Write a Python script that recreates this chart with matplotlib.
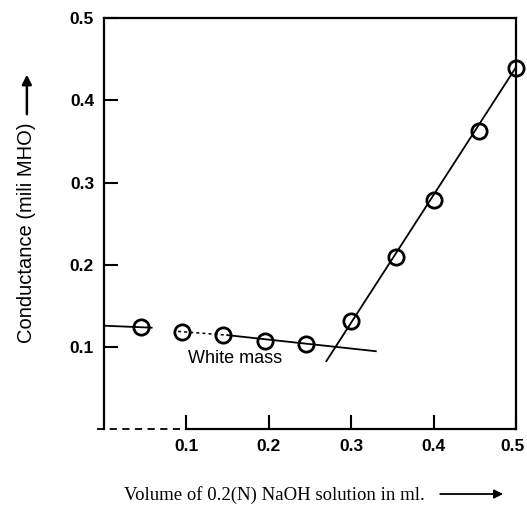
import matplotlib.pyplot as plt
from matplotlib.transforms import ScaledTranslation

# data
volume = [0.045, 0.095, 0.145, 0.195, 0.245, 0.30, 0.355, 0.40, 0.455, 0.50]
conductance = [0.124, 0.118, 0.115, 0.108, 0.104, 0.132, 0.210, 0.279, 0.363, 0.439]

# fitted lines as drawn in the figure
flat_x = [0.0, 0.33]
flat_y = [0.126, 0.095]
steep_x = [0.27, 0.50]
steep_y = [0.083, 0.440]

x_ticks = [0.1, 0.2, 0.3, 0.4, 0.5]
y_ticks = [0.1, 0.2, 0.3, 0.4, 0.5]

fig = plt.figure(figsize=(5.27, 5.13), dpi=100)
ax = fig.add_axes([0.197, 0.163, 0.782, 0.802])
ax.set_xlim(0, 0.5)
ax.set_ylim(0, 0.5)

# flat part: short solid piece, gap, dashed piece, then solid
ax.plot([0.0, 0.058], [0.126, 0.1236], color='black', lw=1.3)
ax.plot([0.09, 0.15], [0.1191, 0.1145], color='black', lw=1.1, ls=(0, (2, 2)))
ax.plot([0.15, flat_x[1]], [0.1145, flat_y[1]], color='black', lw=1.3)
ax.plot(steep_x, steep_y, color='black', lw=1.3)

ax.plot(volume, conductance, 'o', ms=11, mfc='none', mec='black', mew=2,
        clip_on=False, zorder=4)

ax.text(0.102, 0.097, 'White mass', fontsize=13, family='Liberation Sans', va='top')

# axes frame
for side in ['top', 'right', 'left']:
    ax.spines[side].set_linewidth(1.6)
ax.spines['bottom'].set_visible(False)
ax.plot([-0.008, 0.1], [0, 0], color='black', lw=1.3, ls=(0, (4, 3)), clip_on=False)
ax.plot([0.1, 0.5], [0, 0], color='black', lw=1.6, clip_on=False)

ax.set_xticks(x_ticks)
ax.set_xticklabels([f'{t:.1f}' for t in x_ticks])
ax.set_yticks(y_ticks)
ax.set_yticklabels([f'{t:.1f}' for t in y_ticks])
ax.tick_params(direction='in', length=10, width=1.5, labelsize=12.5, pad=7)
for lab in ax.get_xticklabels() + ax.get_yticklabels():
    lab.set_fontweight('bold')
    lab.set_family('Liberation Sans')
# keep the last x label inside the canvas
last = ax.get_xticklabels()[-1]
last.set_transform(last.get_transform() + ScaledTranslation(-3 / 100, 0, fig.dpi_scale_trans))

fig.text(0.051, 0.546, 'Conductance (mili MHO)', rotation=90, fontsize=14.5,
         family='Liberation Sans', ha='center', va='center')
ax.annotate('', xy=(0.051, 0.860), xytext=(0.051, 0.772), xycoords='figure fraction',
            arrowprops=dict(arrowstyle='-|>', color='black', lw=1.8, mutation_scale=14))

fig.text(0.236, 0.035, 'Volume of 0.2(N) NaOH solution in ml.', fontsize=13.5,
         family='Liberation Serif', ha='left', va='center')
ax.annotate('', xy=(0.96, 0.037), xytext=(0.83, 0.037), xycoords='figure fraction',
            arrowprops=dict(arrowstyle='-|>', color='black', lw=1.3, mutation_scale=13))

fig.savefig('out.png', dpi=100)
